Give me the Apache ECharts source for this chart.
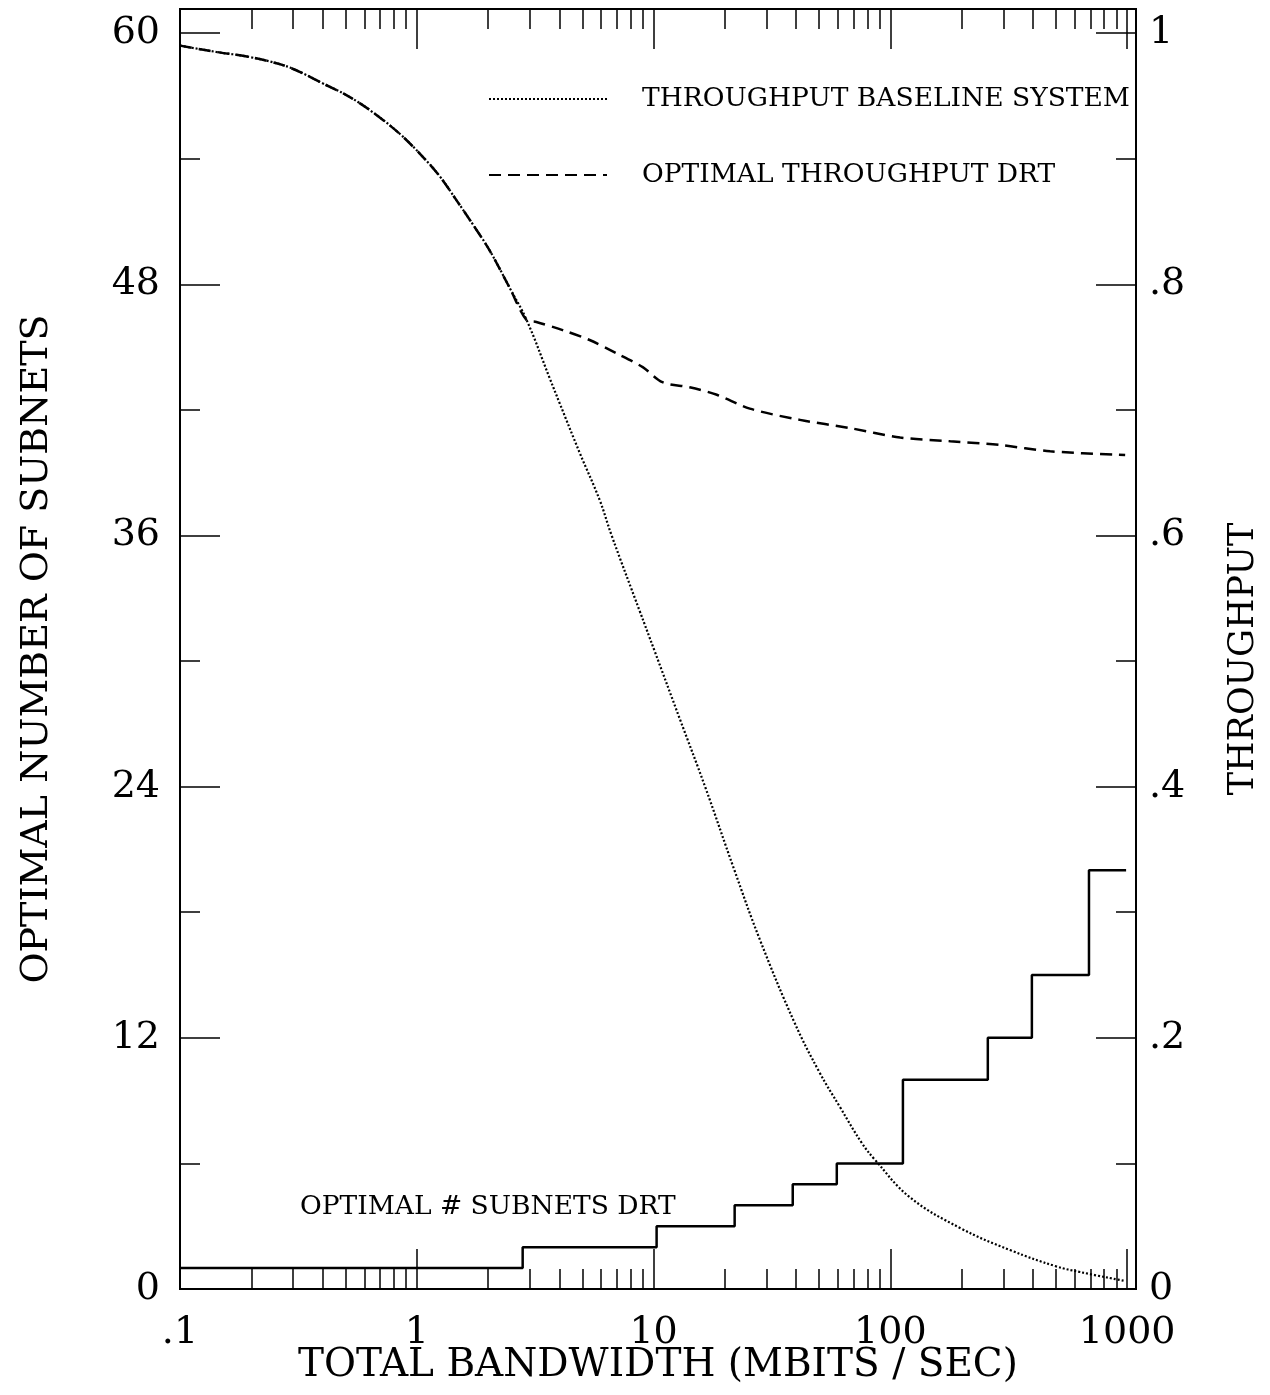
<!DOCTYPE html>
<html><head><meta charset="utf-8">
<script src="https://cdn.jsdelivr.net/npm/echarts@6/dist/echarts.min.js"></script>
<style>html,body{margin:0;padding:0;background:#fff}#c{width:1270px;height:1395px}</style>
</head><body><div id="c"></div>
<script>
// ---- axis ticks / labels ----
const xMajor = [0.1, 1, 10, 100, 1000];
const xTickLabels = ['.1', '1', '10', '100', '1000'];
const xMinor = [0.2,0.3,0.4,0.5,0.6,0.7,0.8,0.9, 2,3,4,5,6,7,8,9, 20,30,40,50,60,70,80,90, 200,300,400,500,600,700,800,900];
const leftTicks = [0, 12, 24, 36, 48, 60];
const rightTicks = [0, 0.2, 0.4, 0.6, 0.8, 1];
const rightTickLabels = ['0', '.2', '.4', '.6', '.8', '1'];

// ---- series: throughput baseline system (dotted, right axis) ----
const baselineX = [0.1,0.142,0.196,0.272,0.33,0.40,0.50,0.63,0.845,1.06,1.25,1.47,1.72,2.03,2.47,2.91,3.64,4.01,4.88,5.92,6.65,8.73,10.1,12.9,16.5,21.9,28.0,39.4,50.1,61.2,75.9,86,121,197,320,502,632,980];
const baselineY = [0.990,0.985,0.981,0.9745,0.968,0.960,0.951,0.939,0.920,0.9015,0.886,0.867,0.848,0.827,0.797,0.7715,0.7253,0.7054,0.6656,0.6282,0.600,0.540,0.508,0.454,0.400,0.334,0.279,0.212,0.1728,0.145,0.116,0.103,0.073,0.0486,0.031,0.018,0.0135,0.0064];

// ---- series: optimal throughput DRT (dashed, right axis) ----
const drtX = [0.1,0.142,0.196,0.272,0.33,0.40,0.50,0.63,0.845,1.06,1.25,1.47,1.72,2.03,2.47,2.91,3.2,4.13,5.37,6.98,9.0,10.9,14.2,18.5,25.5,41.5,67.5,110,179,291,473,981];
const drtY = [0.990,0.985,0.981,0.9745,0.968,0.960,0.951,0.939,0.920,0.9015,0.886,0.867,0.848,0.827,0.797,0.7715,0.770,0.7635,0.7556,0.745,0.734,0.722,0.718,0.712,0.701,0.692,0.6855,0.678,0.675,0.672,0.667,0.664];

// ---- series: optimal # subnets DRT (step, left axis) ----
const subnetX = [0.1, 2.8, 10.3, 22, 38.7, 59.4, 113, 258, 396, 690, 990];
const subnetY = [1, 2, 3, 4, 5, 6, 10, 12, 15, 20, 20];

const FONT = '"DejaVu Serif", "Liberation Serif", serif';
const zip = (xs, ys) => xs.map((x, i) => [x, ys[i]]);
const near = (a, b) => Math.abs(a - b) < 1e-6 * Math.max(1, Math.abs(b));
const X_MIN = 0.1, X_MAX = 1090;
const L_MAX = 61.15, R_MAX = 61.15 / 60;
const black = { color: '#000', width: 2 };
const tickStyle = { color: '#000', width: 1.5 };

function xAxisDef(pos, major, show) {
  return {
    type: 'log', logBase: 10, position: pos, min: X_MIN, max: X_MAX,
    axisLine: { show: show, lineStyle: black },
    axisTick: { show: true, inside: true, length: major ? 40 : 20, customValues: major ? xMajor : xMinor, lineStyle: tickStyle },
    axisLabel: { show: false },
    splitLine: { show: false }, minorTick: { show: false }, minorSplitLine: { show: false }
  };
}

const xMain = xAxisDef('bottom', true, true);
xMain.axisLabel = {
  show: true, customValues: xMajor, margin: 25, color: '#000', fontFamily: FONT, fontSize: 38,
  formatter: v => { const i = xMajor.findIndex(m => Math.abs(Math.log10(v) - Math.log10(m)) < 1e-6); return i >= 0 ? xTickLabels[i] : ''; }
};
xMain.name = 'TOTAL BANDWIDTH (MBITS / SEC)';
xMain.nameLocation = 'middle';
xMain.nameGap = 57;
xMain.nameMoveOverlap = false;
xMain.nameTextStyle = { color: '#000', fontFamily: FONT, fontSize: 39 };

const option = {
  backgroundColor: '#fff',
  animation: false,
  grid: { left: 180, right: 134, top: 9, bottom: 106, show: true, borderColor: '#000', borderWidth: 2, containLabel: false, outerBoundsMode: 'none' },
  legend: {
    data: ['THROUGHPUT BASELINE SYSTEM', 'OPTIMAL THROUGHPUT DRT'],
    orient: 'vertical', left: 483, top: 79, itemWidth: 118, itemHeight: 14, itemGap: 46,
    selectedMode: false,
    itemStyle: { color: 'rgba(0,0,0,0)', borderColor: 'rgba(0,0,0,0)', borderWidth: 0, opacity: 0 },
    textStyle: { color: '#000', fontFamily: FONT, fontSize: 26.5, lineHeight: 30, padding: [0, 0, 0, 30] }
  },
  xAxis: [xMain, xAxisDef('bottom', false, false), xAxisDef('top', true, true), xAxisDef('top', false, false)],
  yAxis: [
    {
      type: 'value', position: 'left', min: 0, max: L_MAX, interval: 12,
      axisLine: { show: true, lineStyle: black },
      axisTick: { show: true, inside: true, length: 40, lineStyle: tickStyle },
      minorTick: { show: true, splitNumber: 2, length: 20, lineStyle: tickStyle },
      axisLabel: { showMaxLabel: false, margin: 20, color: '#000', fontFamily: FONT, fontSize: 38,
        formatter: v => { const i = leftTicks.findIndex(t => near(v, t)); return i >= 0 ? String(leftTicks[i]) : ''; } },
      splitLine: { show: false },
      name: 'OPTIMAL NUMBER OF SUBNETS', nameLocation: 'middle', nameGap: 124, nameMoveOverlap: false,
      nameTextStyle: { color: '#000', fontFamily: FONT, fontSize: 38 }
    },
    {
      type: 'value', position: 'right', min: 0, max: R_MAX, interval: 0.2,
      axisLine: { show: true, lineStyle: black },
      axisTick: { show: true, inside: true, length: 40, lineStyle: tickStyle },
      minorTick: { show: true, splitNumber: 2, length: 20, lineStyle: tickStyle },
      axisLabel: { showMaxLabel: false, margin: 13, color: '#000', fontFamily: FONT, fontSize: 38,
        formatter: v => { const i = rightTicks.findIndex(t => near(v, t)); return i >= 0 ? rightTickLabels[i] : ''; } },
      splitLine: { show: false },
      name: 'THROUGHPUT', nameLocation: 'middle', nameGap: 90, nameMoveOverlap: false,
      nameTextStyle: { color: '#000', fontFamily: FONT, fontSize: 35, padding: [0, 20, 0, 0] }
    }
  ],
  graphic: [{
    type: 'text', x: 300, y: 1207,
    style: { text: 'OPTIMAL # SUBNETS DRT', fill: '#000', font: '26.5px ' + FONT, align: 'left', verticalAlign: 'middle' }
  }],
  series: [
    {
      name: 'OPTIMAL # SUBNETS DRT', type: 'line', xAxisIndex: 0, yAxisIndex: 0, step: 'end',
      data: zip(subnetX, subnetY), symbol: 'none', lineStyle: { color: '#000', width: 2.5 }
    },
    {
      name: 'THROUGHPUT BASELINE SYSTEM', type: 'line', xAxisIndex: 0, yAxisIndex: 1,
      data: zip(baselineX, baselineY), symbol: 'none', smooth: 0.4,
      itemStyle: { color: '#000' },
      lineStyle: { color: '#000', width: 2.2, type: [2, 2] }
    },
    {
      name: 'OPTIMAL THROUGHPUT DRT', type: 'line', xAxisIndex: 0, yAxisIndex: 1,
      data: zip(drtX, drtY), symbol: 'none', smooth: 0.3,
      itemStyle: { color: '#000' },
      lineStyle: { color: '#000', width: 2.5, type: [12, 7] }
    }
  ]
};
const chart = echarts.init(document.getElementById('c'), null, { renderer: 'canvas' });
chart.setOption(option);
</script></body></html>
